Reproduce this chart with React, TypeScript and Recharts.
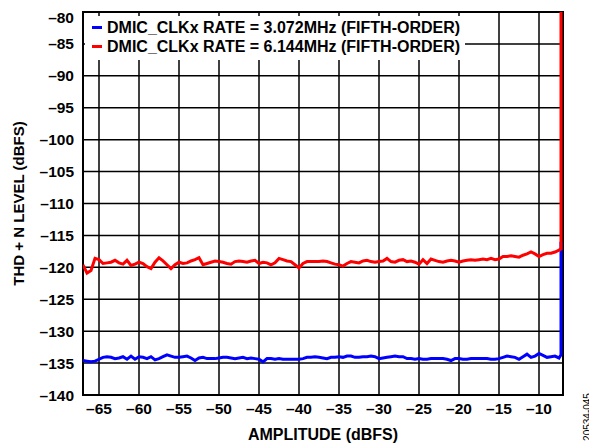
import {
  LineChart, Line, XAxis, YAxis, CartesianGrid, Legend, ReferenceArea,
} from 'recharts';

// amplitude steps in dBFS (0.5 dB), last point is the overload jump
const AMPLITUDE = [
  -67, -66.5, -66, -65.5, -65, -64.5, -64, -63.5, -63, -62.5, -62, -61.5, -61, -60.5, -60,
  -59.5, -59, -58.5, -58, -57.5, -57, -56.5, -56, -55.5, -55, -54.5, -54, -53.5, -53, -52.5,
  -52, -51.5, -51, -50.5, -50, -49.5, -49, -48.5, -48, -47.5, -47, -46.5, -46, -45.5, -45,
  -44.5, -44, -43.5, -43, -42.5, -42, -41.5, -41, -40.5, -40, -39.5, -39, -38.5, -38, -37.5,
  -37, -36.5, -36, -35.5, -35, -34.5, -34, -33.5, -33, -32.5, -32, -31.5, -31, -30.5, -30,
  -29.5, -29, -28.5, -28, -27.5, -27, -26.5, -26, -25.5, -25, -24.5, -24, -23.5, -23, -22.5,
  -22, -21.5, -21, -20.5, -20, -19.5, -19, -18.5, -18, -17.5, -17, -16.5, -16, -15.5, -15,
  -14.5, -14, -13.5, -13, -12.5, -12, -11.5, -11, -10.5, -10, -9.5, -9, -8.5, -8, -7.5,
  -7.25, -7.25,
];

// DMIC_CLKx = 3.072 MHz
const THDN_3072 = [
  -134.6, -134.7, -134.8, -134.7, -134.4, -134.1, -134.0, -134.1, -134.3, -134.2, -134.0, -134.4, -133.9, -134.4, -134.0,
  -134.1, -134.3, -134.0, -134.5, -134.3, -134.0, -133.7, -133.9, -134.1, -134.1, -134.0, -133.9, -134.2, -134.6, -134.2,
  -134.1, -134.3, -134.3, -134.3, -134.2, -134.1, -134.1, -134.2, -134.3, -134.2, -134.1, -134.3, -134.2, -134.3, -134.4,
  -134.8, -134.3, -134.3, -134.4, -134.3, -134.4, -134.4, -134.4, -134.4, -134.4, -134.3, -134.1, -134.1, -134.0, -134.1,
  -134.2, -134.3, -134.1, -134.1, -134.0, -134.1, -133.9, -133.9, -134.1, -134.1, -134.0, -134.0, -133.9, -134.0, -134.3,
  -134.2, -134.1, -134.0, -133.9, -134.0, -134.0, -134.3, -134.3, -134.4, -134.3, -134.4, -134.4, -134.3, -134.3, -134.3,
  -134.3, -134.4, -134.6, -134.3, -134.3, -134.4, -134.4, -134.3, -134.3, -134.3, -134.3, -134.3, -134.4, -134.4, -134.3,
  -134.1, -133.9, -134.0, -134.1, -134.4, -134.0, -133.6, -134.1, -133.9, -133.5, -133.8, -134.1, -134.0, -133.9, -134.2,
  -133.7, -116,
];

// DMIC_CLKx = 6.144 MHz
const THDN_6144 = [
  -119.6, -120.9, -120.5, -118.6, -118.8, -119.4, -119.3, -119.2, -118.9, -119.3, -119.5, -118.9, -119.7, -119.5, -119.2,
  -119.4, -119.9, -120.2, -119.2, -118.5, -119.0, -119.6, -120.2, -119.6, -119.2, -119.4, -119.3, -119.0, -118.8, -118.5,
  -119.6, -119.4, -119.2, -119.0, -119.1, -119.2, -119.4, -119.5, -119.1, -119.0, -119.1, -119.2, -119.0, -118.9, -119.4,
  -119.2, -119.3, -119.6, -119.3, -118.6, -118.8, -119.0, -119.1, -119.6, -120.1, -119.4, -119.1, -119.1, -119.1, -119.1,
  -119.0, -119.1, -119.3, -119.5, -119.6, -119.8, -119.4, -119.1, -119.2, -119.3, -119.0, -118.9, -119.1, -119.2, -119.1,
  -119.0, -118.6, -119.1, -119.2, -118.9, -118.8, -119.1, -119.0, -119.2, -119.5, -118.8, -119.4, -118.7, -118.9, -119.1,
  -119.2, -119.0, -118.9, -119.0, -119.2, -119.0, -118.9, -118.8, -118.9, -118.8, -118.7, -118.8, -118.6, -118.8, -118.7,
  -118.3, -118.3, -118.2, -118.3, -118.4, -118.1, -117.9, -117.6, -117.9, -118.3, -118.0, -117.8, -117.8, -117.6, -117.3,
  -117.1, -80,
];

const X_TICKS = [-65, -60, -55, -50, -45, -40, -35, -30, -25, -20, -15, -10];
const Y_TICKS = [-140, -135, -130, -125, -120, -115, -110, -105, -100, -95, -90, -85, -80];

const SERIES = [
  { key: 'r3072', name: 'DMIC_CLKx RATE = 3.072MHz (FIFTH-ORDER)', color: '#0000ff', values: THDN_3072 },
  { key: 'r6144', name: 'DMIC_CLKx RATE = 6.144MHz (FIFTH-ORDER)', color: '#ff0000', values: THDN_6144 },
];

const data = AMPLITUDE.map((x, i) => ({ x, r3072: THDN_3072[i], r6144: THDN_6144[i] }));

const FONT = 'Arial, "Liberation Sans", Helvetica, sans-serif';
const tickStyle = { fill: '#000', fontSize: 15.5, fontWeight: 700, fontFamily: FONT };
const dash = (v: number) => String(v).replace('-', '\u2013');

const LegendBox = () => (
  <div style={{ background: '#fff', padding: '2px 0 4px 7px', fontFamily: FONT, fontWeight: 700, fontSize: 16 }}>
    {SERIES.map(s => (
      <div key={s.key} style={{ display: 'flex', alignItems: 'center', height: 19 }}>
        <span style={{ display: 'inline-block', width: 10, height: 3, background: s.color, marginRight: 5 }} />
        <span style={{ color: '#000' }}>{s.name}</span>
      </div>
    ))}
  </div>
);

export default function App() {
  return (
    <div style={{ width: 589, height: 436 }}>
      <LineChart width={589} height={436} data={data} margin={{ top: 4, right: 34, left: 0, bottom: 0 }}>
        <CartesianGrid stroke="#000" strokeWidth={1.5} horizontalValues={Y_TICKS} verticalValues={X_TICKS} />
        <XAxis
          dataKey="x" type="number" domain={[-67, -7]} ticks={X_TICKS} allowDataOverflow
          tickFormatter={dash} tick={tickStyle} tickLine={false} tickSize={0} tickMargin={8}
          axisLine={false} height={49}
          label={{
            content: ({ viewBox }: any) => (
              <g>
                <text x={viewBox.x + viewBox.width / 2} y={432} textAnchor="middle"
                  style={{ ...tickStyle, fontSize: 16 }}>AMPLITUDE (dBFS)</text>
                <text x={579} y={409} textAnchor="middle" dominantBaseline="central"
                  transform="rotate(-90 579 409)"
                  style={{ fontFamily: FONT, fontSize: 10, fill: '#000' }}>20534-045</text>
              </g>
            ),
          }}
        />
        <YAxis
          type="number" domain={[-140, -80]} ticks={Y_TICKS} allowDataOverflow
          tickFormatter={dash} tick={tickStyle} tickLine={false} tickSize={0} tickMargin={9}
          axisLine={false} width={75}
          label={{
            content: ({ viewBox }: any) => {
              const cy = viewBox.y + viewBox.height / 2;
              return (
                <text x={10} y={cy} textAnchor="middle" dominantBaseline="central"
                  transform={`rotate(-90 10 ${cy})`} style={{ ...tickStyle, fontSize: 15 }}>THD + N LEVEL (dBFS)</text>
              );
            },
          }}
        />
        <ReferenceArea x1={-67} x2={-7} y1={-140} y2={-80} fill="none" stroke="#000" strokeWidth={2} />
        <Legend
          layout="horizontal" verticalAlign="middle" align="center"
          wrapperStyle={{ top: 8, left: 77, width: 380 }}
          content={() => <LegendBox />}
        />
        {SERIES.map(s => (
          <Line key={s.key} dataKey={s.key} name={s.name} stroke={s.color} strokeWidth={3}
            dot={false} type="linear" isAnimationActive={false} />
        ))}
      </LineChart>
    </div>
  );
}
